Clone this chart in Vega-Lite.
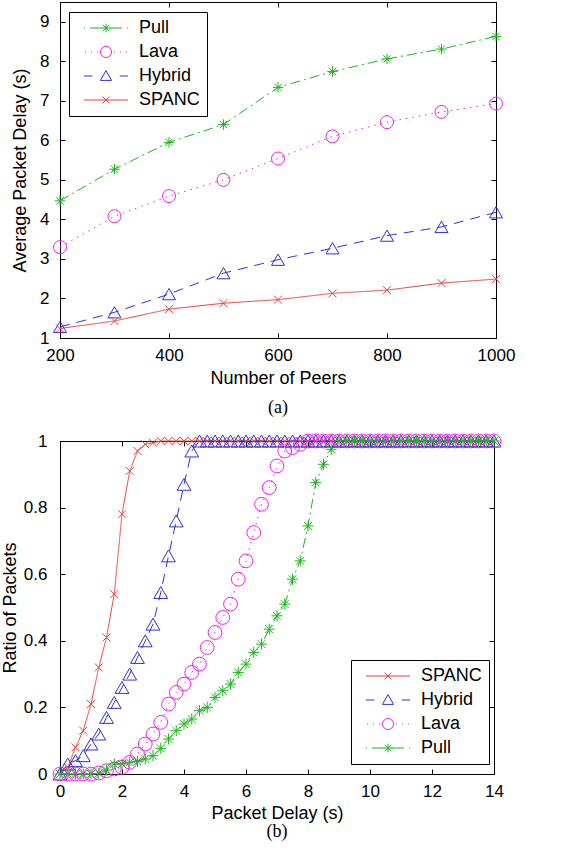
{
  "$schema": "https://vega.github.io/schema/vega-lite/v6.json",
  "background": "white",
  "padding": {"left": 0, "top": 1, "right": 5, "bottom": 5},
  "spacing": 13,
  "datasets": {
    "peers": [
      {"peers": 200, "Pull": 4.47, "Lava": 3.30, "Hybrid": 1.28, "SPANC": 1.24},
      {"peers": 300, "Pull": 5.27, "Lava": 4.08, "Hybrid": 1.65, "SPANC": 1.43},
      {"peers": 400, "Pull": 5.95, "Lava": 4.59, "Hybrid": 2.11, "SPANC": 1.73},
      {"peers": 500, "Pull": 6.40, "Lava": 5.00, "Hybrid": 2.64, "SPANC": 1.88},
      {"peers": 600, "Pull": 7.34, "Lava": 5.54, "Hybrid": 2.98, "SPANC": 1.97},
      {"peers": 700, "Pull": 7.74, "Lava": 6.10, "Hybrid": 3.27, "SPANC": 2.13},
      {"peers": 800, "Pull": 8.06, "Lava": 6.46, "Hybrid": 3.59, "SPANC": 2.21},
      {"peers": 900, "Pull": 8.31, "Lava": 6.72, "Hybrid": 3.81, "SPANC": 2.39},
      {"peers": 1000, "Pull": 8.63, "Lava": 6.93, "Hybrid": 4.18, "SPANC": 2.49}
    ],
    "cdf": [
      {"d": 0, "SPANC": 0, "Hybrid": 0, "Lava": 0, "Pull": 0},
      {"d": 0.25, "SPANC": 0.02, "Hybrid": 0.03, "Lava": 0, "Pull": 0},
      {"d": 0.5, "SPANC": 0.08, "Hybrid": 0.04, "Lava": 0, "Pull": 0},
      {"d": 0.75, "SPANC": 0.13, "Hybrid": 0.055, "Lava": 0, "Pull": 0},
      {"d": 1.0, "SPANC": 0.21, "Hybrid": 0.09, "Lava": 0, "Pull": 0},
      {"d": 1.25, "SPANC": 0.32, "Hybrid": 0.12, "Lava": 0.003, "Pull": 0.002},
      {"d": 1.5, "SPANC": 0.41, "Hybrid": 0.17, "Lava": 0.01, "Pull": 0.012},
      {"d": 1.75, "SPANC": 0.54, "Hybrid": 0.215, "Lava": 0.015, "Pull": 0.03},
      {"d": 2.0, "SPANC": 0.78, "Hybrid": 0.26, "Lava": 0.02, "Pull": 0.03},
      {"d": 2.25, "SPANC": 0.91, "Hybrid": 0.30, "Lava": 0.035, "Pull": 0.035},
      {"d": 2.5, "SPANC": 0.97, "Hybrid": 0.35, "Lava": 0.06, "Pull": 0.038},
      {"d": 2.75, "SPANC": 0.99, "Hybrid": 0.40, "Lava": 0.09, "Pull": 0.045},
      {"d": 3.0, "SPANC": 0.995, "Hybrid": 0.45, "Lava": 0.12, "Pull": 0.055},
      {"d": 3.25, "SPANC": 1, "Hybrid": 0.545, "Lava": 0.155, "Pull": 0.077},
      {"d": 3.5, "SPANC": 1, "Hybrid": 0.655, "Lava": 0.21, "Pull": 0.105},
      {"d": 3.75, "SPANC": 1, "Hybrid": 0.76, "Lava": 0.245, "Pull": 0.13},
      {"d": 4.0, "SPANC": 1, "Hybrid": 0.87, "Lava": 0.27, "Pull": 0.15},
      {"d": 4.25, "SPANC": 1, "Hybrid": 0.97, "Lava": 0.305, "Pull": 0.165},
      {"d": 4.5, "SPANC": 1, "Hybrid": 1, "Lava": 0.33, "Pull": 0.19},
      {"d": 4.75, "SPANC": 1, "Hybrid": 1, "Lava": 0.38, "Pull": 0.2},
      {"d": 5.0, "SPANC": 1, "Hybrid": 1, "Lava": 0.425, "Pull": 0.23},
      {"d": 5.25, "SPANC": 1, "Hybrid": 1, "Lava": 0.47, "Pull": 0.25},
      {"d": 5.5, "SPANC": 1, "Hybrid": 1, "Lava": 0.51, "Pull": 0.27},
      {"d": 5.75, "SPANC": 1, "Hybrid": 1, "Lava": 0.585, "Pull": 0.305},
      {"d": 6.0, "SPANC": 1, "Hybrid": 1, "Lava": 0.64, "Pull": 0.33},
      {"d": 6.25, "SPANC": 1, "Hybrid": 1, "Lava": 0.725, "Pull": 0.365},
      {"d": 6.5, "SPANC": 1, "Hybrid": 1, "Lava": 0.81, "Pull": 0.39},
      {"d": 6.75, "SPANC": 1, "Hybrid": 1, "Lava": 0.86, "Pull": 0.435},
      {"d": 7.0, "SPANC": 1, "Hybrid": 1, "Lava": 0.925, "Pull": 0.475},
      {"d": 7.25, "SPANC": 1, "Hybrid": 1, "Lava": 0.97, "Pull": 0.51},
      {"d": 7.5, "SPANC": 1, "Hybrid": 1, "Lava": 0.98, "Pull": 0.585},
      {"d": 7.75, "SPANC": 1, "Hybrid": 1, "Lava": 0.99, "Pull": 0.64},
      {"d": 8.0, "SPANC": 1, "Hybrid": 1, "Lava": 1, "Pull": 0.745},
      {"d": 8.25, "SPANC": 1, "Hybrid": 1, "Lava": 1, "Pull": 0.875},
      {"d": 8.5, "SPANC": 1, "Hybrid": 1, "Lava": 1, "Pull": 0.93},
      {"d": 8.75, "SPANC": 1, "Hybrid": 1, "Lava": 1, "Pull": 0.975},
      {"d": 9.0, "SPANC": 1, "Hybrid": 1, "Lava": 1, "Pull": 1},
      {"d": 9.25, "SPANC": 1, "Hybrid": 1, "Lava": 1, "Pull": 1},
      {"d": 9.5, "SPANC": 1, "Hybrid": 1, "Lava": 1, "Pull": 1},
      {"d": 9.75, "SPANC": 1, "Hybrid": 1, "Lava": 1, "Pull": 1},
      {"d": 10.0, "SPANC": 1, "Hybrid": 1, "Lava": 1, "Pull": 1},
      {"d": 10.25, "SPANC": 1, "Hybrid": 1, "Lava": 1, "Pull": 1},
      {"d": 10.5, "SPANC": 1, "Hybrid": 1, "Lava": 1, "Pull": 1},
      {"d": 10.75, "SPANC": 1, "Hybrid": 1, "Lava": 1, "Pull": 1},
      {"d": 11.0, "SPANC": 1, "Hybrid": 1, "Lava": 1, "Pull": 1},
      {"d": 11.25, "SPANC": 1, "Hybrid": 1, "Lava": 1, "Pull": 1},
      {"d": 11.5, "SPANC": 1, "Hybrid": 1, "Lava": 1, "Pull": 1},
      {"d": 11.75, "SPANC": 1, "Hybrid": 1, "Lava": 1, "Pull": 1},
      {"d": 12.0, "SPANC": 1, "Hybrid": 1, "Lava": 1, "Pull": 1},
      {"d": 12.25, "SPANC": 1, "Hybrid": 1, "Lava": 1, "Pull": 1},
      {"d": 12.5, "SPANC": 1, "Hybrid": 1, "Lava": 1, "Pull": 1},
      {"d": 12.75, "SPANC": 1, "Hybrid": 1, "Lava": 1, "Pull": 1},
      {"d": 13.0, "SPANC": 1, "Hybrid": 1, "Lava": 1, "Pull": 1},
      {"d": 13.25, "SPANC": 1, "Hybrid": 1, "Lava": 1, "Pull": 1},
      {"d": 13.5, "SPANC": 1, "Hybrid": 1, "Lava": 1, "Pull": 1},
      {"d": 13.75, "SPANC": 1, "Hybrid": 1, "Lava": 1, "Pull": 1},
      {"d": 14.0, "SPANC": 1, "Hybrid": 1, "Lava": 1, "Pull": 1}
    ]
  },
  "vconcat": [
    {
      "width": 436,
      "height": 336,
      "data": {"name": "peers"},
      "transform": [{"fold": ["Pull", "Lava", "Hybrid", "SPANC"], "as": ["series", "delay"]}],
      "title": {"text": "(a)", "orient": "bottom", "frame": "group", "font": "Liberation Serif", "fontSize": 18, "fontWeight": "normal", "color": "black", "offset": 12},
      "layer": [
        {
          "mark": {"type": "line", "strokeWidth": 1},
          "encoding": {
            "x": {"field": "peers", "type": "quantitative", "scale": {"domain": [200, 1000], "nice": false},
                  "axis": {"orient": "bottom", "values": [200, 400, 600, 800, 1000], "format": "d", "title": "Number of Peers", "titlePadding": 6}},
            "y": {"field": "delay", "type": "quantitative", "scale": {"domain": [1, 9.5], "nice": false, "zero": false},
                  "axis": {"orient": "left", "values": [1, 2, 3, 4, 5, 6, 7, 8, 9], "labelPadding": 16, "title": "Average Packet Delay (s)", "titlePadding": 10}},
            "color": {"field": "series", "type": "nominal",
                      "scale": {"domain": ["Pull", "Lava", "Hybrid", "SPANC"], "range": ["#1fb51f", "#f020f0", "#3030d8", "#e8403c"]},
                      "legend": {"orient": "none", "legendX": 9, "legendY": 10, "title": null,
                                 "encode": {"symbols": {"update": {
                                   "fill": {"value": "transparent"},
                                   "strokeDash": {"value": []},
                                   "opacity": {"value": 1},
                                   "shape": {"signal": "datum.value === 'SPANC' ? 'M-3.4,0H3.4M-0.52,-0.52L0.52,0.52M-0.52,0.52L0.52,-0.52' : datum.value === 'Hybrid' ? 'M-3.4,0H-2.1M2.1,0H3.4M0,-0.82L0.85,0.68L-0.85,0.68Z' : datum.value === 'Lava' ? 'M-3.22,0h0.17M-2.3,0h0.17M-1.38,0h0.17M1.21,0h0.17M2.13,0h0.17M3.05,0h0.17M0.85,0A0.85,0.85,0,1,1,-0.85,0A0.85,0.85,0,1,1,0.85,0Z' : 'M-3.4,0h0.17M-2.46,0H-0.52M0.52,0H2.46M3.23,0h0.17M-0.68,0H0.68M0,-0.68V0.68M-0.49,-0.49L0.49,0.49M-0.49,0.49L0.49,-0.49'"}
                                 }}}}},
            "strokeDash": {"field": "series", "type": "nominal",
                           "scale": {"domain": ["Lava", "Pull", "SPANC", "Hybrid"], "range": [[1.5, 5], [10, 4, 2, 4], [1, 0], [10, 7]]},
                           "legend": null}
          }
        },
        {
          "mark": {"type": "point", "filled": false, "opacity": 1, "strokeWidth": 1, "size": 169},
          "encoding": {
            "x": {"field": "peers", "type": "quantitative",
                  "axis": {"orient": "top", "values": [200, 400, 600, 800, 1000], "labels": false, "title": null}},
            "y": {"field": "delay", "type": "quantitative",
                  "axis": {"orient": "right", "values": [1, 2, 3, 4, 5, 6, 7, 8, 9], "labels": false, "title": null}},
            "color": {"field": "series", "type": "nominal"},
            "shape": {"field": "series", "type": "nominal",
                      "scale": {"domain": ["Lava", "Pull", "SPANC", "Hybrid"],
                                "range": ["circle", "M-0.8,0H0.8M0,-0.8V0.8M-0.57,-0.57L0.57,0.57M-0.57,0.57L0.57,-0.57", "M-0.62,-0.62L0.62,0.62M-0.62,0.62L0.62,-0.62", "triangle-up"]},
                      "legend": null}
          }
        }
      ],
      "resolve": {"axis": {"x": "independent", "y": "independent"}}
    },
    {
      "width": 434,
      "height": 333,
      "data": {"name": "cdf"},
      "transform": [{"fold": ["SPANC", "Hybrid", "Lava", "Pull"], "as": ["series", "ratio"]}],
      "title": {"text": "(b)", "orient": "bottom", "frame": "group", "font": "Liberation Serif", "fontSize": 18, "fontWeight": "normal", "color": "black", "offset": 1},
      "layer": [
        {
          "mark": {"type": "line", "strokeWidth": 1},
          "encoding": {
            "x": {"field": "d", "type": "quantitative", "scale": {"domain": [0, 14], "nice": false},
                  "axis": {"orient": "bottom", "values": [0, 2, 4, 6, 8, 10, 12, 14], "title": "Packet Delay (s)", "titlePadding": 5}},
            "y": {"field": "ratio", "type": "quantitative", "scale": {"domain": [0, 1], "nice": false},
                  "axis": {"orient": "left", "values": [0, 0.2, 0.4, 0.6, 0.8, 1], "format": "~g", "labelPadding": 18, "title": "Ratio of Packets", "titlePadding": 4}},
            "color": {"field": "series", "type": "nominal",
                      "scale": {"domain": ["SPANC", "Hybrid", "Lava", "Pull"], "range": ["#e8403c", "#3030d8", "#f020f0", "#1fb51f"]},
                      "legend": {"orient": "none", "legendX": 291, "legendY": 219, "title": null,
                                 "encode": {"symbols": {"update": {
                                   "fill": {"value": "transparent"},
                                   "strokeDash": {"value": []},
                                   "opacity": {"value": 1},
                                   "shape": {"signal": "datum.value === 'SPANC' ? 'M-3.4,0H3.4M-0.52,-0.52L0.52,0.52M-0.52,0.52L0.52,-0.52' : datum.value === 'Hybrid' ? 'M-3.4,0H-2.1M2.1,0H3.4M0,-0.82L0.85,0.68L-0.85,0.68Z' : datum.value === 'Lava' ? 'M-3.22,0h0.17M-2.3,0h0.17M-1.38,0h0.17M1.21,0h0.17M2.13,0h0.17M3.05,0h0.17M0.85,0A0.85,0.85,0,1,1,-0.85,0A0.85,0.85,0,1,1,0.85,0Z' : 'M-3.4,0h0.17M-2.46,0H-0.52M0.52,0H2.46M3.23,0h0.17M-0.68,0H0.68M0,-0.68V0.68M-0.49,-0.49L0.49,0.49M-0.49,0.49L0.49,-0.49'"}
                                 }}}}},
            "strokeDash": {"field": "series", "type": "nominal",
                           "scale": {"domain": ["Hybrid", "SPANC", "Pull", "Lava"], "range": [[10, 7], [1, 0], [10, 4, 2, 4], [1.5, 5]]},
                           "legend": null}
          }
        },
        {
          "mark": {"type": "point", "filled": false, "opacity": 1, "strokeWidth": 1, "size": 190},
          "encoding": {
            "x": {"field": "d", "type": "quantitative",
                  "axis": {"orient": "top", "values": [0, 2, 4, 6, 8, 10, 12, 14], "labels": false, "title": null}},
            "y": {"field": "ratio", "type": "quantitative",
                  "axis": {"orient": "right", "values": [0, 0.2, 0.4, 0.6, 0.8, 1], "labels": false, "title": null}},
            "color": {"field": "series", "type": "nominal"},
            "shape": {"field": "series", "type": "nominal",
                      "scale": {"domain": ["Hybrid", "SPANC", "Pull", "Lava"],
                                "range": ["triangle-up", "M-0.58,-0.58L0.58,0.58M-0.58,0.58L0.58,-0.58", "M-0.8,0H0.8M0,-0.8V0.8M-0.57,-0.57L0.57,0.57M-0.57,0.57L0.57,-0.57", "circle"]},
                      "legend": null}
          }
        }
      ],
      "resolve": {"axis": {"x": "independent", "y": "independent"}}
    }
  ],
  "resolve": {
    "scale": {"color": "independent", "shape": "independent", "strokeDash": "independent"},
    "legend": {"color": "independent"}
  },
  "config": {
    "font": "Liberation Sans",
    "view": {"stroke": "black", "strokeWidth": 1},
    "axis": {
      "grid": false,
      "domainColor": "black",
      "domainWidth": 1,
      "tickColor": "black",
      "tickWidth": 1,
      "tickSize": -5,
      "labelPadding": 14,
      "labelFlush": false,
      "labelColor": "black",
      "labelFont": "Liberation Sans",
      "labelFontSize": 17,
      "titleColor": "black",
      "titleFont": "Liberation Sans",
      "titleFontSize": 18,
      "titleFontWeight": "normal"
    },
    "legend": {
      "padding": 7,
      "strokeColor": "black",
      "fillColor": "white",
      "symbolSize": 169,
      "symbolStrokeWidth": 1,
      "symbolOffset": 21,
      "labelOffset": 24,
      "labelFont": "Liberation Sans",
      "labelFontSize": 18,
      "labelColor": "black",
      "rowPadding": 6
    }
  }
}
